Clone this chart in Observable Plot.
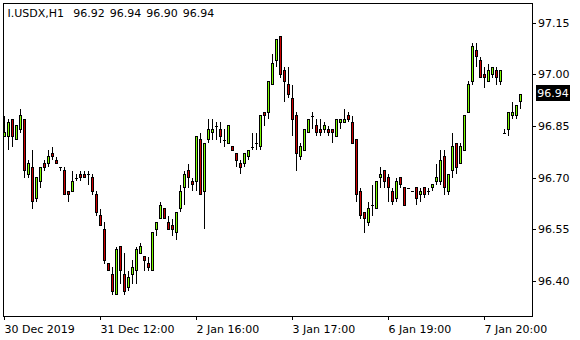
<!DOCTYPE html>
<html><head><meta charset="utf-8">
<script src="https://cdn.jsdelivr.net/npm/d3@7"></script>
<script src="https://cdn.jsdelivr.net/npm/@observablehq/plot@0.6"></script>
<style>html,body{margin:0;padding:0;background:#fff;} svg{display:block}</style>
</head><body><div id="chart"></div>
<script>
const symbol = "I.USDX,H1";
const opens = [96.82,96.82,96.87,96.81,96.84,96.87,96.71,96.73,96.64,96.69,
96.74,96.74,96.77,96.75,96.73,96.72,96.66,96.66,96.70,96.71,
96.71,96.71,96.70,96.65,96.59,96.55,96.45,96.42,96.36,96.50,
96.42,96.38,96.42,96.43,96.48,96.47,96.45,96.43,96.55,96.58,
96.61,96.57,96.56,96.54,96.61,96.67,96.72,96.69,96.69,96.81,
96.66,96.81,96.83,96.85,96.84,96.81,96.80,96.79,96.77,96.74,
96.74,96.76,96.79,96.80,96.79,96.89,96.89,96.97,97.04,97.11,
97.01,96.97,96.93,96.88,96.76,96.78,96.83,96.88,96.85,96.84,
96.84,96.84,96.84,96.82,96.86,96.86,96.88,96.86,96.81,96.66,
96.60,96.57,96.62,96.61,96.70,96.72,96.70,96.66,96.64,96.70,
96.67,96.67,96.66,96.67,96.65,96.67,96.66,96.67,96.69,96.69,
96.76,96.66,96.72,96.80,96.74,96.78,96.89,96.98,97.07,97.04,
97.00,96.98,97.00,97.01,96.98,96.83,96.84,96.88,96.88,96.92];
const highs = [96.88,96.87,96.87,96.85,96.90,96.87,96.75,96.78,96.70,96.73,
96.75,96.78,96.79,96.76,96.73,96.73,96.66,96.72,96.71,96.72,
96.72,96.72,96.71,96.66,96.61,96.57,96.45,96.44,96.50,96.50,
96.48,96.43,96.46,96.50,96.51,96.47,96.47,96.54,96.57,96.63,
96.61,96.59,96.58,96.60,96.68,96.72,96.74,96.70,96.82,96.83,
96.80,96.87,96.87,96.86,96.86,96.84,96.85,96.79,96.77,96.75,
96.77,96.78,96.83,96.83,96.88,96.89,96.98,97.06,97.10,97.11,
97.02,97.02,96.97,96.89,96.80,96.84,96.87,96.89,96.87,96.87,
96.86,96.85,96.84,96.87,96.87,96.90,96.89,96.88,96.81,96.67,
96.60,96.63,96.68,96.69,96.73,96.72,96.71,96.67,96.70,96.70,
96.67,96.67,96.66,96.67,96.67,96.67,96.67,96.68,96.74,96.78,
96.78,96.71,96.83,96.80,96.80,96.88,96.98,97.09,97.09,97.05,
97.02,97.03,97.02,97.02,97.01,96.84,96.89,96.92,96.91,96.94];
const lows = [96.82,96.78,96.79,96.81,96.83,96.70,96.70,96.61,96.63,96.67,
96.72,96.73,96.75,96.74,96.72,96.65,96.63,96.66,96.69,96.69,
96.70,96.68,96.65,96.59,96.56,96.45,96.43,96.36,96.36,96.39,
96.36,96.37,96.39,96.39,96.48,96.43,96.43,96.43,96.53,96.58,
96.58,96.55,96.53,96.52,96.60,96.62,96.67,96.66,96.66,96.65,
96.55,96.80,96.81,96.81,96.80,96.79,96.80,96.78,96.73,96.71,
96.73,96.75,96.78,96.78,96.78,96.85,96.87,96.97,97.02,96.99,
96.92,96.93,96.82,96.72,96.75,96.78,96.83,96.84,96.82,96.82,
96.83,96.82,96.80,96.82,96.84,96.86,96.86,96.80,96.63,96.58,
96.54,96.56,96.59,96.61,96.67,96.67,96.63,96.62,96.63,96.67,
96.62,96.67,96.66,96.62,96.63,96.64,96.65,96.66,96.68,96.68,
96.65,96.65,96.70,96.71,96.74,96.78,96.89,96.97,97.02,96.99,
96.96,96.98,96.99,96.97,96.97,96.83,96.82,96.87,96.87,96.90];
const closes = [96.83,96.86,96.82,96.85,96.88,96.72,96.74,96.63,96.70,96.73,
96.73,96.76,96.76,96.74,96.73,96.65,96.65,96.69,96.70,96.70,
96.70,96.71,96.66,96.60,96.56,96.46,96.43,96.37,96.49,96.43,
96.37,96.41,96.44,96.49,96.50,96.46,96.44,96.54,96.57,96.62,
96.58,96.55,96.55,96.60,96.66,96.71,96.70,96.68,96.82,96.65,
96.80,96.84,96.84,96.85,96.82,96.81,96.85,96.78,96.75,96.73,
96.77,96.78,96.79,96.80,96.88,96.88,96.98,97.03,97.10,97.00,
96.98,96.94,96.87,96.77,96.79,96.84,96.87,96.88,96.83,96.83,
96.85,96.83,96.83,96.87,96.87,96.87,96.87,96.80,96.65,96.59,
96.58,96.61,96.62,96.69,96.71,96.69,96.67,96.63,96.69,96.68,
96.62,96.67,96.66,96.64,96.66,96.65,96.66,96.68,96.70,96.75,
96.67,96.71,96.79,96.73,96.79,96.88,96.97,97.08,97.05,96.99,
96.99,97.01,97.02,96.99,97.01,96.83,96.89,96.89,96.91,96.94];
const timeTickIndex = [0, 24, 48, 72, 96, 120];
const timeTickLabels = ["30 Dec 2019", "31 Dec 12:00", "2 Jan 16:00", "3 Jan 17:00", "6 Jan 19:00", "7 Jan 20:00"];
const priceTicks = [96.40, 96.55, 96.70, 96.85, 97.00, 97.15];

const bars = opens.map((o, i) => ({i, open: o, high: highs[i], low: lows[i], close: closes[i]}));
const bulls = bars.filter(d => d.close > d.open);
const bears = bars.filter(d => d.close < d.open);
const dojis = bars.filter(d => d.close === d.open);
const last = bars[bars.length - 1];

const chart = Plot.plot({
  width: 580, height: 340,
  marginLeft: 2.5, marginRight: 48.5, marginTop: 3, marginBottom: 24,
  x: {type: "linear", domain: [-0.375, 131.875], label: null},
  y: {type: "linear", domain: [96.2985, 97.2066], label: null},
  style: {fontFamily: "DejaVu Sans", fontSize: "11px", background: "#fff", color: "#000", overflow: "visible"},
  marks: [
    Plot.ruleX(bars, {x: "i", y1: "low", y2: "high", stroke: "#000", strokeWidth: 1}),
    Plot.rect(bulls, {x1: d => d.i - 0.25, x2: d => d.i + 0.25, y1: "open", y2: "close", fill: "#7CFC00", stroke: "#000", strokeWidth: 1}),
    Plot.rect(bears, {x1: d => d.i - 0.25, x2: d => d.i + 0.25, y1: "open", y2: "close", fill: "#CC0000", stroke: "#000", strokeWidth: 1}),
    Plot.ruleY(dojis, {x1: d => d.i - 0.375, x2: d => d.i + 0.375, y: "close", stroke: "#000", strokeWidth: 1}),
    Plot.frame({stroke: "#000"}),
    Plot.axisY({anchor: "right", ticks: priceTicks, tickSize: 3, tickPadding: 3, tickFormat: d => d.toFixed(2), label: null}),
    Plot.axisX({anchor: "bottom", ticks: timeTickIndex, tickSize: 4, tickPadding: 5, textAnchor: "start",
      tickFormat: d => timeTickLabels[timeTickIndex.indexOf(d)], label: null}),
    Plot.ruleY([last], {x1: 133, x2: 141.4, y: "close", dy: -2, stroke: "#000", strokeWidth: 16}),
    Plot.text([last], {x: 133.2, y: "close", dy: -2, text: d => d.close.toFixed(2), fill: "#fff", textAnchor: "start"}),
    Plot.text([symbol], {frameAnchor: "top-left", dx: 4.5, dy: 6, lineAnchor: "top", textAnchor: "start", text: d => d}),
    Plot.text([last], {frameAnchor: "top-left", dx: 70.2, dy: 6, lineAnchor: "top", textAnchor: "start",
      text: d => [d.open, d.high, d.low, d.close].map(v => v.toFixed(2)).join(" ")})
  ]
});
chart.setAttribute("shape-rendering", "crispEdges");
chart.querySelectorAll("text").forEach(t => { if (t.textContent.startsWith("96.92 ")) t.setAttribute("word-spacing", "1.5"); });
document.getElementById("chart").appendChild(chart);
</script>
</body></html>
